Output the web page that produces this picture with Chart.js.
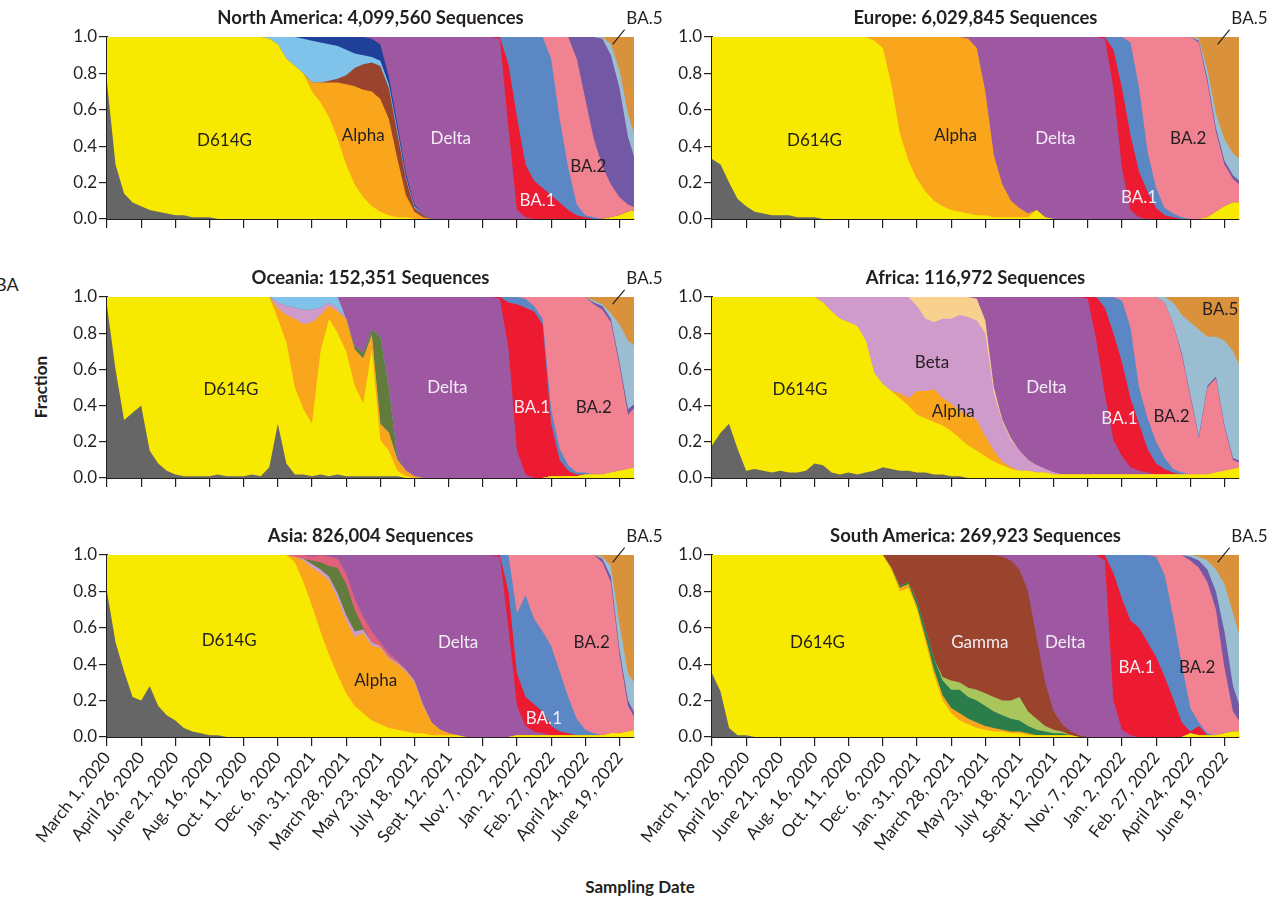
<!DOCTYPE html>
<html>
<head>
<meta charset="utf-8">
<script src="https://cdn.jsdelivr.net/npm/chart.js@4.4.1/dist/chart.umd.min.js"></script>
<style>
  html, body { margin: 0; padding: 0; background: #fff; }
  body { width: 1268px; height: 898px; position: relative; overflow: hidden;
         font-family: Lato, "Open Sans", sans-serif; color: #231f20; }
  canvas { position: absolute; }
  .title { position: absolute; font-weight: bold; font-size: 18.5px; white-space: nowrap;
           transform: translate(-50%, -50%); }
  .axis-title { position: absolute; font-weight: bold; font-size: 17px; white-space: nowrap;
                transform: translate(-50%, -50%); }
  .stray { position: absolute; font-size: 18px; white-space: nowrap; transform: translateY(-50%); }
</style>
</head>
<body>
<div class="axis-title" style="left:40px; top:387px; transform: translate(-50%,-50%) rotate(-90deg);">Fraction</div>
<div class="axis-title" style="left:640px; top:886px;">Sampling Date</div>
<div class="stray" style="left:-5px; top:284px;">BA</div>
<script>
// Sampling weeks (weeks after March 1, 2020), one value every two weeks
const weeks = [0,2,4,6,8,10,12,14,16,18,20,22,24,26,28,30,32,34,36,38,40,42,44,46,48,50,52,54,56,58,60,
  62,64,66,68,70,72,74,76,78,80,82,84,86,88,90,92,94,96,98,100,102,104,106,108,110,112,114,116,118,120,122,124];

// Date axis: a labelled tick every 8 weeks
const tickWeeks = [0,8,16,24,32,40,48,56,64,72,80,88,96,104,112,120];
const tickLabels = ['March 1, 2020','April 26, 2020','June 21, 2020','Aug. 16, 2020','Oct. 11, 2020',
  'Dec. 6, 2020','Jan. 31, 2021','March 28, 2021','May 23, 2021','July 18, 2021','Sept. 12, 2021',
  'Nov. 7, 2021','Jan. 2, 2022','Feb. 27, 2022','April 24, 2022','June 19, 2022'];

// Fraction axis (values are stored as percent)
const yTicks = [0,20,40,60,80,100];
const yTickLabels = ['0.0','0.2','0.4','0.6','0.8','1.0'];

// Lineages, stacked bottom to top
const lineages = ['Ancestral','D614G','Alpha','Beta','C.1.2','Lambda','Mu','Kappa','Other','Gamma',
  'Epsilon','Iota','Delta','BA.1','BA.1.1','BA.2','BA.2.12.1','BA.4','BA.5'];
const lineageColors = {
  'Ancestral':'#666666','D614G':'#f7ea00','Alpha':'#f9a61c','Beta':'#cf9bca','C.1.2':'#f8d18e',
  'Lambda':'#2b7d4c','Mu':'#a9c65d','Kappa':'#617c3c','Other':'#e2617a','Gamma':'#9b442d',
  'Epsilon':'#80c3ea','Iota':'#1f4099','Delta':'#9d58a1','BA.1':'#ec1b31','BA.1.1':'#5b87c4',
  'BA.2':'#f08292','BA.2.12.1':'#7358a6','BA.4':'#9bbdd1','BA.5':'#d9923b'
};

// Percent of sequences per lineage. Each series: [first week, values every two weeks] segments.
// North America
const naGray   = [[0,[75,30,14,9,7,5,4,3,2,2,1,1,1]]];
const naD614G  = [[0,[25,70,86,91,93,95,96,97,98,98,99,99,99,100,100,100,100,100,100,99,96,88,84,80,70,64,56,44,30,19,12,7,4,2,1,1]],[118,[1,2,4,5]]];
const naAlpha  = [[48,[5,11,19,31,44,54,59,63,62,53,32,12,4,1]]];
const naGamma  = [[52,[1,2,5,10,14,16,18,17,14,9,2,1]]];
const naEpsilon= [[38,[1,4,12,16,19,23,22,20,18,14,8,5,3,3,2,2,1,1]]];
const naIota   = [[46,[1,2,3,4,5,7,9,10,10,9,4,3,2,1]]];
const naDelta  = [[62,[1,4,22,48,75,92,98,100,100,100,100,100,100,100,100,99,50,5,1]]];
const naBA1    = [[92,[1,35,51,29,21,17,13,9,5,2,1]]];
const naBA11   = [[94,[15,44,70,79,83,75,46,23,6,1,1]]];
const naBA2    = [[104,[12,45,72,80,64,43,29,18,10,4,1]]];
const naBA2121 = [[110,[12,34,56,70,71,60,37,24]]];
const naBA4    = [[116,[1,6,10,13,12]]];
const naBA5    = [[118,[4,18,42,58]]];

// Europe
const euGray   = [[0,[33,30,20,11,7,4,3,2,2,2,1,1,1]]];
const euD614G  = [[0,[67,70,80,89,93,96,97,98,98,98,99,99,99,100,100,100,100,100,100,98,94,74,47,32,22,15,10,7,5,4,3,2,2,1,1,1,1,1,5,1]],[116,[1,4,7,9,9]]];
const euAlpha  = [[38,[2,6,26,53,68,78,85,90,93,95,96,96,92,68,34,18,9,5,2]]];
const euDelta  = [[60,[1,6,30,65,81,90,94,97,95,99,100,100,100,100,100,100,99,72,28,5,1]]];
const euBA1    = [[92,[1,21,44,41,25,15,6,2,1]]];
const euBA11   = [[94,[7,28,51,46,22,11,4,2,1]]];
const euBA2    = [[98,[3,28,63,83,94,97,99,100,97,74,44,23,13,9]]];
const euBA2121 = [[114,[1,2,2,2,2,2]]];
const euBA4    = [[114,[1,5,8,12,12,12]]];
const euBA5    = [[114,[1,18,42,56,64,68]]];

// Oceania
const ocGray   = [[0,[95,60,32,36,40,15,8,4,2,1,1,1,1,2,1,1,1,2,1,6,30,8,2,2,1,2,1,2,1,1,1,1,1,1,1]]];
const ocD614G  = [[0,[5,40,68,64,60,85,92,96,98,99,99,99,99,98,99,99,99,98,99,94,58,67,48,36,29,68,87,78,69,50,40,70,20,14,3,1]],[104,[1,1,1,1,2,2,2,3,4,5,6]]];
const ocAlpha  = [[40,[6,15,38,47,56,20,7,12,18,20,25,8,9,10,6,3,1]]];
const ocBeta   = [[40,[3,5,6,8,7,4,2,2]]];
const ocEpsilon= [[40,[3,5,6,7,7,6,3,6]]];
const ocKappa  = [[58,[2,3,3,48,25,1]]];
const ocDelta  = [[56,[12,27,31,18,22,50,89,96,99,100,100,100,100,100,100,100,100,100,99,72,15,2]]];
const ocBA1    = [[92,[1,25,81,92,92,85,29,9,3,1]]];
const ocBA11   = [[94,[3,4,5,3,3,8,6,3,1,1]]];
const ocBA2    = [[98,[1,5,12,62,84,93,97,97,94,91,83,58,30,34]]];
const ocBA2121 = [[114,[1,2,2,2,3,2]]];
const ocBA4    = [[114,[1,1,3,21,38,30]]];
const ocBA5    = [[114,[2,4,9,15,24,28]]];

// Africa
const afGray   = [[0,[18,25,30,16,4,5,4,3,4,3,3,4,8,7,3,2,3,2,3,4,6,5,4,4,3,3,2,2,1,1]]];
const afD614G  = [[0,[82,75,70,84,96,95,96,97,96,97,97,96,92,90,89,86,83,82,73,54,46,43,40,36,32,30,29,27,25,21,18,15,12,9,7,5,4,4,3,3,2,2,2,2,2,2,2,2,2,2,2,2,2,2,2,2,2,2,2,3,4,5,6]]];
const afAlpha  = [[44,[3,4,13,15,18,15,15,15,17,17,11,6,2,1]]];
const afBeta   = [[26,[3,8,12,14,16,24,42,48,52,53,56,47,40,37,44,47,53,54,55,57,32,22,15,11,6,4,2,1]]];
const afC12    = [[48,[5,12,14,12,12,10,11,12,7,3,1,1]]];
const afDelta  = [[62,[1,13,50,68,78,85,90,93,95,97,98,98,98,97,74,44,19,10,4,2,1]]];
const afBA1    = [[88,[1,24,48,59,52,38,26,13,6,3,1]]];
const afBA11   = [[92,[6,20,34,39,20,17,12,6,2,1]]];
const afBA2    = [[96,[2,17,50,67,80,86,80,65,43,20,48,52,24,5,2]]];
const afBA2121 = [[110,[1,1,1,1,1,1,1,1]]];
const afBA4    = [[106,[3,12,21,40,59,27,22,47,59,51]]];
const afBA5    = [[108,[3,10,14,18,22,22,24,30,40]]];

// Asia
const asGray   = [[0,[80,52,36,22,20,28,17,12,9,5,3,2,1,1]]];
const asD614G  = [[0,[20,48,64,78,80,72,83,88,91,95,97,98,99,99,100,100,100,100,100,100,100,100,96,85,72,58,45,34,24,17,13,9,7,5,4,3,2,2,1,1,1,1]],[96,[1,1,1,1,1,1,1,1,1,1,1,2,2,3,4]]];
const asAlpha  = [[44,[3,12,21,32,41,42,40,38,44,41,42,38,36,33,28,15,7,3,1]]];
const asBeta   = [[46,[1,2,2,2,3,3,3,2,2,1,1,1,1,1,1]]];
const asKappa  = [[48,[2,4,6,14,17,12,1]]];
const asOther  = [[44,[1,2,2,4,5,5,6,6,6,6,2,2,1]]];
const asDelta  = [[48,[1,0,1,2,10,24,34,42,48,54,58,63,69,82,92,96,98,99,100,100,100,100,99,60,16,5,2,1]]];
const asBA1    = [[92,[1,20,18,16,15,12,5,2,1]]];
const asBA11   = [[94,[20,33,56,47,44,44,33,20,9,3,1]]];
const asBA2    = [[96,[32,22,35,42,50,64,78,90,96,98,95,83,43,14,5]]];
const asBA2121 = [[116,[2,3,3,3,2]]];
const asBA4    = [[116,[1,6,14,15,17]]];
const asBA5    = [[116,[1,6,38,65,72]]];

// South America
const saGray   = [[0,[35,25,5,1,1]]];
const saD614G  = [[0,[65,75,95,99,99,100,100,100,100,100,100,100,100,100,100,100,100,100,100,100,100,92,80,82,70,52,34,20,13,9,7,5,4,3,3,2,2,1,1,1,1,1,1]],[112,[2,1,1,1,2,3,3]]];
const saAlpha  = [[42,[1,2,2,2,3,3,3,3,4,3,3,2,2,1,1,1,1]]];
const saLambda = [[44,[1,1,3,4,6,8,10,13,12,12,11,9,8,7,6,4,3,2,1,1]]];
const saMu     = [[54,[2,5,4,5,6,7,8,8,10,13,8,6,3,2,1]]];
const saGamma  = [[42,[7,17,15,25,41,57,67,69,70,73,74,76,78,79,77,70,66,45,24,10,4,2,1]]];
const saDelta  = [[68,[1,3,8,20,45,70,86,93,97,99,100,100,97,20,4,1]]];
const saBA1    = [[92,[3,70,72,63,60,52,44,33,21,8,1,5]]];
const saBA11   = [[94,[10,24,36,40,48,55,56,45,32,13,2,1]]];
const saBA2    = [[104,[1,11,34,60,81,85,83,69,36,11,4]]];
const saBA2121 = [[112,[2,4,7,10,20,14,7]]];
const saBA4    = [[112,[1,2,5,12,26,40,38]]];
const saBA5    = [[114,[1,3,8,16,32,48]]];

const DARK = '#231f20', LIGHT = '#f4ecf4';
const PLOT_W = 527, LEFT_GUTTER = 80, RIGHT_GUTTER = 30, TOP_GUTTER = 30;
const X_MAX = 123.4;

const panels = [
  { title: 'North America: 4,099,560 Sequences', left: 107, top: 37, h: 182, dates: false, callout: true,
    series: { 'Ancestral': naGray, 'D614G': naD614G, 'Alpha': naAlpha, 'Gamma': naGamma, 'Epsilon': naEpsilon,
      'Iota': naIota, 'Delta': naDelta, 'BA.1': naBA1, 'BA.1.1': naBA11, 'BA.2': naBA2, 'BA.2.12.1': naBA2121,
      'BA.4': naBA4, 'BA.5': naBA5 },
    names: [['D614G',27.5,43,DARK],['Alpha',60,46,DARK],['Delta',80.5,44,LIGHT],['BA.1',100.8,10,LIGHT],['BA.2',112.7,29,DARK]] },
  { title: 'Europe: 6,029,845 Sequences', left: 712, top: 37, h: 182, dates: false, callout: true,
    series: { 'Ancestral': euGray, 'D614G': euD614G, 'Alpha': euAlpha, 'Delta': euDelta, 'BA.1': euBA1,
      'BA.1.1': euBA11, 'BA.2': euBA2, 'BA.2.12.1': euBA2121, 'BA.4': euBA4, 'BA.5': euBA5 },
    names: [['D614G',24,43,DARK],['Alpha',57,46,DARK],['Delta',80.4,44,LIGHT],['BA.1',100,12,LIGHT],['BA.2',111.5,44,DARK]] },
  { title: 'Oceania: 152,351 Sequences', left: 107, top: 297, h: 181, dates: false, callout: true,
    series: { 'Ancestral': ocGray, 'D614G': ocD614G, 'Alpha': ocAlpha, 'Beta': ocBeta, 'Kappa': ocKappa,
      'Epsilon': ocEpsilon, 'Delta': ocDelta, 'BA.1': ocBA1, 'BA.1.1': ocBA11, 'BA.2': ocBA2,
      'BA.2.12.1': ocBA2121, 'BA.4': ocBA4, 'BA.5': ocBA5 },
    names: [['D614G',29,49,DARK],['Delta',79.7,50,LIGHT],['BA.1',99.5,39,LIGHT],['BA.2',114,39,DARK]] },
  { title: 'Africa: 116,972 Sequences', left: 712, top: 297, h: 181, dates: false, callout: false,
    series: { 'Ancestral': afGray, 'D614G': afD614G, 'Alpha': afAlpha, 'Beta': afBeta, 'C.1.2': afC12,
      'Delta': afDelta, 'BA.1': afBA1, 'BA.1.1': afBA11, 'BA.2': afBA2, 'BA.2.12.1': afBA2121,
      'BA.4': afBA4, 'BA.5': afBA5 },
    names: [['D614G',20.6,49,DARK],['Beta',51.5,64,DARK],['Alpha',56.5,37,DARK],['Delta',78.3,50,LIGHT],
      ['BA.1',95.4,33,LIGHT],['BA.2',107.6,34,DARK],['BA.5',119,93,DARK]] },
  { title: 'Asia: 826,004 Sequences', left: 107, top: 555, h: 182, dates: true, callout: true,
    series: { 'Ancestral': asGray, 'D614G': asD614G, 'Alpha': asAlpha, 'Beta': asBeta, 'Kappa': asKappa,
      'Other': asOther, 'Delta': asDelta, 'BA.1': asBA1, 'BA.1.1': asBA11, 'BA.2': asBA2,
      'BA.2.12.1': asBA2121, 'BA.4': asBA4, 'BA.5': asBA5 },
    names: [['D614G',28.6,53,DARK],['Alpha',62.9,31,DARK],['Delta',82.2,52,LIGHT],['BA.1',102.3,10,LIGHT],['BA.2',113.5,52,DARK]] },
  { title: 'South America: 269,923 Sequences', left: 712, top: 555, h: 182, dates: true, callout: true,
    series: { 'Ancestral': saGray, 'D614G': saD614G, 'Alpha': saAlpha, 'Lambda': saLambda, 'Mu': saMu,
      'Gamma': saGamma, 'Delta': saDelta, 'BA.1': saBA1, 'BA.1.1': saBA11, 'BA.2': saBA2,
      'BA.2.12.1': saBA2121, 'BA.4': saBA4, 'BA.5': saBA5 },
    names: [['D614G',24.7,52,DARK],['Gamma',62.7,52,LIGHT],['Delta',82.7,52,LIGHT],['BA.1',99.4,38,LIGHT],['BA.2',113.6,38,DARK]] }
];

// Spread a segment list over the full week grid (zero where the lineage was not sampled)
function expand(segments) {
  return weeks.map(w => {
    for (const [start, vals] of segments) {
      const i = (w - start) / 2;
      if (i >= 0 && i < vals.length) return vals[i];
    }
    return 0;
  });
}

// Lineage names inside the bands, and the BA.5 pointer above the plot
const bandNames = {
  id: 'bandNames',
  afterDatasetsDraw(chart, args, opts) {
    const { ctx } = chart;
    const xs = chart.scales.x, ys = chart.scales.y;
    ctx.save();
    ctx.font = '17px Lato';
    ctx.textAlign = 'center';
    ctx.textBaseline = 'middle';
    for (const [text, wk, pct, color] of opts.items) {
      ctx.fillStyle = color;
      ctx.fillText(text, xs.getPixelForValue(wk), ys.getPixelForValue(pct));
    }
    if (opts.callout) {
      ctx.strokeStyle = DARK;
      ctx.lineWidth = 1.2;
      ctx.beginPath();
      ctx.moveTo(xs.getPixelForValue(118.4), ys.getPixelForValue(96));
      ctx.lineTo(xs.getPixelForValue(121.2), ys.getPixelForValue(104));
      ctx.stroke();
      ctx.textAlign = 'left';
      ctx.fillStyle = DARK;
      ctx.fillText('BA.5', xs.getPixelForValue(121.6), ys.getPixelForValue(110));
    }
    ctx.restore();
  }
};

function buildPanel(p) {
  const bottomSpace = p.dates ? 155 : 20;
  const canvas = document.createElement('canvas');
  canvas.width = LEFT_GUTTER + PLOT_W + RIGHT_GUTTER;
  canvas.height = TOP_GUTTER + p.h + bottomSpace;
  canvas.style.left = (p.left - LEFT_GUTTER) + 'px';
  canvas.style.top = (p.top - TOP_GUTTER) + 'px';
  document.body.appendChild(canvas);

  const title = document.createElement('div');
  title.className = 'title';
  title.textContent = p.title;
  title.style.left = (p.left + PLOT_W / 2) + 'px';
  title.style.top = (p.top - 20) + 'px';
  document.body.appendChild(title);

  const datasets = lineages.filter(n => p.series[n]).map(n => ({
    label: n,
    data: expand(p.series[n]),
    backgroundColor: lineageColors[n],
    borderWidth: 0,
    pointRadius: 0,
    tension: 0,
    fill: 'origin'
  }));

  new Chart(canvas, {
    type: 'line',
    data: { labels: weeks, datasets },
    options: {
      responsive: false,
      animation: false,
      events: [],
      devicePixelRatio: 1,
      layout: { padding: { left: 0, right: RIGHT_GUTTER, top: TOP_GUTTER, bottom: 0 } },
      plugins: {
        legend: { display: false },
        tooltip: { enabled: false },
        bandNames: { items: p.names, callout: p.callout }
      },
      scales: {
        x: {
          type: 'linear', min: 0, max: X_MAX,
          afterBuildTicks: s => { s.ticks = tickWeeks.map(v => ({ value: v })); },
          afterFit: s => { s.height = bottomSpace; s.paddingLeft = 0; s.paddingRight = 0; },
          grid: { drawOnChartArea: false, drawTicks: true, tickLength: 9, color: '#231f20', lineWidth: 1.2 },
          border: { display: true, color: '#231f20', width: 2 },
          ticks: {
            display: p.dates, autoSkip: false, minRotation: 52, maxRotation: 52, padding: 2,
            color: '#231f20', font: { family: 'Lato', size: 17 },
            callback: (v, i) => tickLabels[i]
          }
        },
        y: {
          stacked: true, min: 0, max: 100,
          afterBuildTicks: s => { s.ticks = yTicks.map(v => ({ value: v })); },
          afterFit: s => { s.width = LEFT_GUTTER; s.paddingTop = 0; s.paddingBottom = 0; },
          grid: { drawOnChartArea: false, drawTicks: true, tickLength: 8, color: '#231f20', lineWidth: 1.2 },
          border: { display: true, color: '#231f20', width: 2 },
          ticks: {
            padding: 2, color: '#231f20', font: { family: 'Lato', size: 17 },
            callback: (v, i) => yTickLabels[i]
          }
        }
      }
    },
    plugins: [bandNames]
  });
}

panels.forEach(buildPanel);
</script>
</body>
</html>
